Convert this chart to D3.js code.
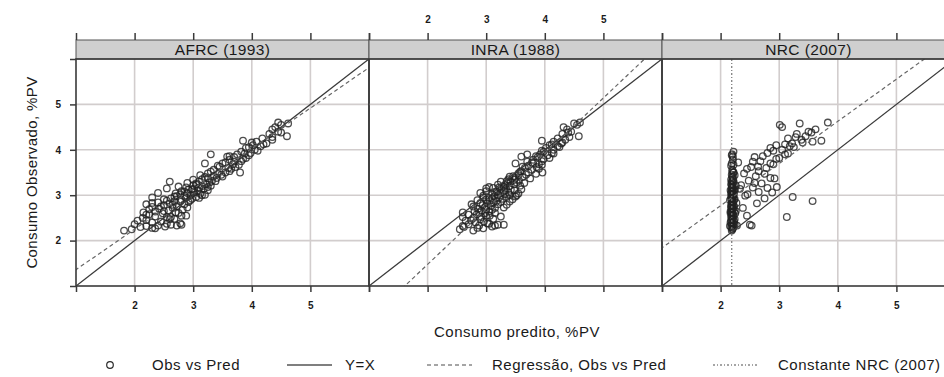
<!DOCTYPE html>
<html>
<head>
<meta charset="utf-8">
<script src="https://cdn.jsdelivr.net/npm/d3@7"></script>
<style>
  body { margin: 0; background: #fff; }
  text { font-family: "Liberation Sans", Arial, sans-serif; fill: #1a1a1a; }
</style>
</head>
<body>
<svg id="chart" width="944" height="377"></svg>
<script>
// painéis (modelos)
const models = ['AFRC (1993)', 'INRA (1988)', 'NRC (2007)'];

// consumo observado, %PV (mesmo para os três modelos)
const observed = [
  2.22, 2.25, 2.27, 2.30, 2.31, 2.33, 2.35, 2.36, 2.38, 2.40,
  2.42, 2.45, 2.48, 2.50, 2.52, 2.55, 2.58, 2.60, 2.62, 2.64,
  2.66, 2.68, 2.70, 2.72, 2.74, 2.76, 2.78, 2.80, 2.82, 2.84,
  2.85, 2.87, 2.88, 2.90, 2.92, 2.93, 2.95, 2.96, 2.98, 3.00,
  3.02, 3.03, 3.05, 3.06, 3.08, 3.10, 3.12, 3.14, 3.15, 3.17,
  3.20, 3.22, 3.24, 3.26, 3.28, 3.30, 3.32, 3.35, 3.38, 3.40,
  3.42, 3.45, 3.48, 3.50, 3.53, 3.56, 3.60, 3.62, 3.65, 3.68,
  3.72, 3.75, 3.78, 3.80, 3.84, 3.88, 3.90, 3.93, 3.96, 4.00,
  4.04, 4.08, 4.10, 4.14, 4.18, 4.22, 4.25, 4.30, 4.35, 4.40,
  4.45, 4.50, 4.55, 4.58, 4.60, 3.50, 3.30, 3.15, 3.90, 3.05,
  2.80, 2.95, 3.70, 2.35, 2.33, 2.55, 3.00, 2.62, 3.85, 4.20,
  3.18, 2.52,
  2.28, 2.32, 2.37, 2.44, 2.47, 2.53, 2.57, 2.61, 2.65, 2.69,
  2.73, 2.75, 2.79, 2.83, 2.86, 2.89, 2.91, 2.94, 2.97, 2.99,
  3.01, 3.04, 3.07, 3.09, 3.11, 3.13, 3.16, 3.19, 3.21, 3.23,
  3.27, 3.31, 3.34, 3.37, 3.41, 3.44, 3.47, 3.52, 3.58, 3.63,
  3.67, 3.70, 3.74, 3.82, 3.86, 3.92, 3.98, 4.06, 4.12, 4.16,
  4.28, 4.38
];

// consumo predito, %PV
const predAFRC = [
  1.82, 1.95, 2.35, 2.10, 2.52, 2.40, 2.62, 2.00, 2.78, 2.30,
  2.45, 2.20, 2.68, 2.14, 2.55, 2.80, 2.25, 2.48, 2.70, 2.35,
  2.58, 2.82, 2.42, 2.65, 2.30, 2.72, 2.50, 2.85, 2.60, 2.40,
  2.92, 2.68, 2.55, 2.80, 2.98, 2.62, 2.88, 3.05, 2.72, 2.95,
  2.78, 3.12, 2.90, 3.00, 2.85, 3.08, 2.92, 3.18, 3.02, 2.88,
  3.15, 3.00, 3.22, 3.05, 3.28, 3.10, 3.32, 3.15, 3.40, 3.20,
  3.35, 3.48, 3.25, 3.55, 3.62, 3.35, 3.60, 3.72, 3.42, 3.68,
  3.55, 3.82, 3.62, 3.85, 3.70, 3.95, 3.75, 3.98, 3.82, 4.05,
  3.90, 4.15, 4.02, 4.25, 4.08, 4.35, 4.18, 4.60, 4.30, 4.45,
  4.35, 4.40, 4.50, 4.62, 4.45, 3.80, 2.60, 2.55, 3.30, 2.40,
  2.20, 2.30, 3.20, 2.80, 2.72, 2.88, 3.15, 2.15, 3.58, 3.85,
  3.25, 2.62,
  2.30, 2.20, 2.55, 2.05, 2.60, 2.35, 2.20, 2.75, 2.50, 2.25,
  2.90, 2.45, 2.65, 2.30, 2.78, 2.95, 2.50, 3.10, 2.68, 2.85,
  3.20, 2.70, 3.02, 2.80, 3.25, 2.98, 3.10, 2.75, 3.30, 3.05,
  2.90, 3.38, 3.00, 3.25, 3.50, 3.12, 3.42, 3.30, 3.65, 3.45,
  3.78, 3.50, 3.70, 3.90, 3.62, 3.88, 4.10, 3.95, 4.20, 4.00,
  4.35, 4.50
];

const predINRA = [
  2.78, 2.55, 2.95, 2.62, 3.10, 2.88, 3.20, 2.70, 3.02, 2.82,
  2.96, 2.74, 3.12, 2.78, 2.92, 3.06, 2.84, 2.98, 2.88, 3.05,
  2.92, 3.10, 2.86, 3.15, 2.98, 3.08, 2.94, 3.20, 3.02, 3.12,
  3.25, 3.06, 3.18, 3.00, 3.28, 3.10, 3.22, 3.35, 3.14, 3.20,
  3.32, 3.10, 3.24, 3.38, 3.18, 3.30, 3.42, 3.26, 3.34, 3.22,
  3.40, 3.32, 3.48, 3.36, 3.52, 3.42, 3.56, 3.38, 3.50, 3.62,
  3.46, 3.68, 3.55, 3.72, 3.60, 3.78, 3.66, 3.86, 3.72, 3.90,
  3.78, 3.95, 3.80, 3.98, 3.88, 4.05, 3.92, 4.12, 3.98, 4.15,
  4.02, 4.22, 4.08, 4.28, 4.15, 4.35, 4.22, 4.58, 4.30, 4.45,
  4.38, 4.32, 4.55, 4.50, 4.60, 3.96, 3.25, 3.00, 3.70, 2.90,
  2.75, 2.95, 3.50, 3.30, 3.15, 3.00, 3.52, 2.60, 3.60, 3.95,
  3.05, 2.60,
  2.85, 2.60, 3.05, 2.65, 2.90, 3.25, 2.70, 3.15, 2.80, 3.00,
  3.30, 2.78, 3.35, 2.90, 3.40, 2.85, 3.45, 3.05, 3.50, 2.95,
  3.40, 3.55, 3.15, 3.00, 3.48, 3.60, 3.12, 3.30, 3.58, 3.20,
  3.65, 3.35, 3.48, 3.75, 3.40, 3.55, 3.85, 3.58, 3.90, 3.62,
  3.95, 3.80, 3.70, 4.08, 3.85, 4.15, 3.95, 4.25, 4.12, 4.30,
  4.42, 4.40
];

const predNRC = [
  2.19, 2.20, 2.21, 2.18, 2.22, 2.28, 2.19, 2.24, 2.20, 2.17,
  2.23, 2.19, 2.21, 2.20, 2.18, 2.22, 2.19, 2.25, 2.20, 2.17,
  2.23, 2.19, 2.21, 2.38, 2.20, 2.18, 2.22, 2.19, 2.62, 2.21,
  2.20, 3.57, 2.19, 2.23, 2.18, 2.75, 2.21, 3.23, 2.20, 2.19,
  2.46, 2.22, 2.18, 2.88, 2.20, 2.24, 2.19, 2.33, 2.21, 2.55,
  2.20, 2.35, 2.18, 2.70, 2.22, 2.19, 2.48, 2.21, 2.85, 2.20,
  2.60, 2.19, 2.40, 2.22, 2.65, 2.20, 2.78, 2.52, 2.18, 2.90,
  2.30, 2.68, 2.21, 2.95, 2.58, 2.19, 3.10, 2.80, 2.22, 3.05,
  2.85, 3.18, 2.95, 3.22, 3.57, 3.38, 3.15, 3.45, 3.30, 3.50,
  3.62, 3.05, 3.01, 3.35, 3.83, 2.22, 2.20, 2.19, 2.20, 2.21,
  2.19, 2.20, 2.19, 2.50, 2.53, 2.45, 2.22, 2.19, 2.21, 3.72,
  2.96, 3.13,
  2.20, 2.16, 2.22, 2.18, 2.24, 2.19, 2.21, 2.17, 2.26, 2.20,
  2.18, 2.23, 2.19, 2.27, 2.21, 2.16, 2.24, 2.20, 2.18, 2.42,
  2.22, 2.19, 2.65, 2.21, 2.17, 2.24, 2.80, 2.20, 2.26, 2.19,
  2.58, 2.22, 2.18, 2.92, 2.21, 2.24, 2.75, 2.20, 2.45, 2.64,
  2.22, 2.85, 2.55, 3.00, 2.72, 3.15, 2.90, 3.25, 3.10, 3.40,
  3.28, 3.55
];

// regressão Obs vs Pred em cada painel
const regIntercept = [0.47, -0.968, 0.911];
const regSlope = [0.89, 1.222, 0.929];
const nrcConstant = 2.19;

const tickValues = [1, 2, 3, 4, 5, 6];
const labelValues = [2, 3, 4, 5];

const legendItems = [
  { key: 'point', label: 'Obs vs Pred' },
  { key: 'solid', label: 'Y=X' },
  { key: 'dashed', label: 'Regressão, Obs vs Pred' },
  { key: 'dotdash', label: 'Constante NRC (2007)' }
];

const predicted = [predAFRC, predINRA, predNRC];

const svg = d3.select('#chart');
const panelLeft = 76;
const panelW = 293;
const stripTop = 40;
const panelTop = 59;
const panelBottom = 286;

const x = d3.scaleLinear().domain([1, 6]).range([0, panelW]);
const y = d3.scaleLinear().domain([1, 6]).range([panelBottom, panelTop]);

const fmt = d => labelValues.includes(d) ? d3.format('d')(d) : '';

function styleAxis(ax) {
  ax.select('.domain').remove();
  ax.selectAll('.tick line').attr('stroke', '#3a3a3a').attr('stroke-width', 1.5);
  ax.selectAll('.tick text').style('font-size', '10px').style('font-weight', 'bold').attr('fill', '#333');
}

models.forEach((name, i) => {
  const g = svg.append('g').attr('transform', `translate(${panelLeft + i * panelW},0)`);

  g.append('clipPath').attr('id', 'clip' + i)
    .append('rect').attr('x', 0).attr('y', panelTop).attr('width', panelW).attr('height', panelBottom - panelTop);

  // grade
  g.append('g').selectAll('line').data(labelValues).enter().append('line')
    .attr('x1', d => x(d)).attr('x2', d => x(d))
    .attr('y1', panelTop).attr('y2', panelBottom)
    .attr('stroke', '#d2cdcd').attr('stroke-width', 1.6);
  g.append('g').selectAll('line').data(labelValues).enter().append('line')
    .attr('x1', 0).attr('x2', panelW)
    .attr('y1', d => y(d)).attr('y2', d => y(d))
    .attr('stroke', '#d2cdcd').attr('stroke-width', 1.6);

  const plot = g.append('g').attr('clip-path', `url(#clip${i})`);

  // pontos
  plot.append('g').selectAll('circle')
    .data(observed.map((o, k) => ({ obs: o, pred: predicted[i][k] })))
    .enter().append('circle')
    .attr('cx', d => x(d.pred))
    .attr('cy', d => y(d.obs))
    .attr('r', 3.3)
    .attr('fill', 'none')
    .attr('stroke', '#222')
    .attr('stroke-opacity', 0.8)
    .attr('stroke-width', 1.3);

  // Y = X
  plot.append('line')
    .attr('x1', x(1)).attr('y1', y(1)).attr('x2', x(6)).attr('y2', y(6))
    .attr('stroke', '#3a3a3a').attr('stroke-width', 1.3);

  // regressão
  const reg = xv => regIntercept[i] + regSlope[i] * xv;
  plot.append('line')
    .attr('x1', x(0)).attr('y1', y(reg(0))).attr('x2', x(7)).attr('y2', y(reg(7)))
    .attr('stroke', '#666').attr('stroke-width', 1.2).attr('stroke-dasharray', '4,3');

  if (i === 2) {
    plot.append('line')
      .attr('x1', x(nrcConstant)).attr('x2', x(nrcConstant))
      .attr('y1', panelTop).attr('y2', panelBottom)
      .attr('stroke', '#777').attr('stroke-width', 1.2).attr('stroke-dasharray', '2,2,1,2');
  }

  // faixa com o título do painel
  g.append('rect')
    .attr('x', 0).attr('y', stripTop).attr('width', panelW).attr('height', panelTop - stripTop)
    .attr('fill', '#cfcfcf').attr('stroke', '#555').attr('stroke-width', 1);
  g.append('text')
    .attr('x', panelW / 2).attr('y', (stripTop + panelTop) / 2 + 5.5)
    .attr('text-anchor', 'middle').style('font-size', '15.5px').style('letter-spacing', '0.4px')
    .text(name);

  // borda do painel
  g.append('rect')
    .attr('x', 0).attr('y', panelTop).attr('width', panelW).attr('height', panelBottom - panelTop)
    .attr('fill', 'none').attr('stroke', '#3a3a3a').attr('stroke-width', 1.6);

  // eixos (alternados, estilo lattice)
  const bottom = d3.axisBottom(x).tickValues(tickValues).tickSize(6).tickPadding(10)
    .tickFormat(i === 1 ? () => '' : fmt);
  styleAxis(g.append('g').attr('transform', `translate(0,${panelBottom})`).call(bottom));

  const top = d3.axisTop(x).tickValues(tickValues).tickSize(7).tickPadding(10)
    .tickFormat(i === 1 ? fmt : () => '');
  styleAxis(g.append('g').attr('transform', `translate(0,${stripTop})`).call(top));

  if (i === 0) {
    const left = d3.axisLeft(y).tickValues(tickValues).tickSize(6).tickPadding(9).tickFormat(fmt);
    styleAxis(g.append('g').call(left));
  }
});

// títulos dos eixos
svg.append('text')
  .attr('transform', `translate(37,${(panelTop + panelBottom) / 2}) rotate(-90)`)
  .attr('text-anchor', 'middle').style('font-size', '15px').style('letter-spacing', '0.4px')
  .text('Consumo Observado, %PV');

svg.append('text')
  .attr('x', 517).attr('y', 337)
  .attr('text-anchor', 'middle').style('font-size', '15px').style('letter-spacing', '0.5px')
  .text('Consumo predito, %PV');

// legenda
const legendY = 366;
const legendX = [110, 287, 427, 713];
const legend = svg.append('g');
legendItems.forEach((item, k) => {
  const lx = legendX[k];
  if (item.key === 'point') {
    legend.append('circle').attr('cx', lx).attr('cy', legendY - 1).attr('r', 3.3)
      .attr('fill', 'none').attr('stroke', '#2a2a2a').attr('stroke-width', 1.2);
  } else {
    legend.append('line').attr('x1', lx).attr('x2', lx + 45).attr('y1', legendY - 1).attr('y2', legendY - 1)
      .attr('stroke', item.key === 'solid' ? '#555' : '#888').attr('stroke-width', 1.3)
      .attr('stroke-dasharray', item.key === 'dashed' ? '4,3' : item.key === 'dotdash' ? '2,2,1,2' : null);
  }
  const off = item.key === 'point' ? 42 : item.key === 'solid' ? 58 : 65;
  legend.append('text').attr('x', lx + off).attr('y', legendY + 4)
    .style('font-size', '15px').style('letter-spacing', '0.5px').text(item.label);
});
</script>
</body>
</html>
